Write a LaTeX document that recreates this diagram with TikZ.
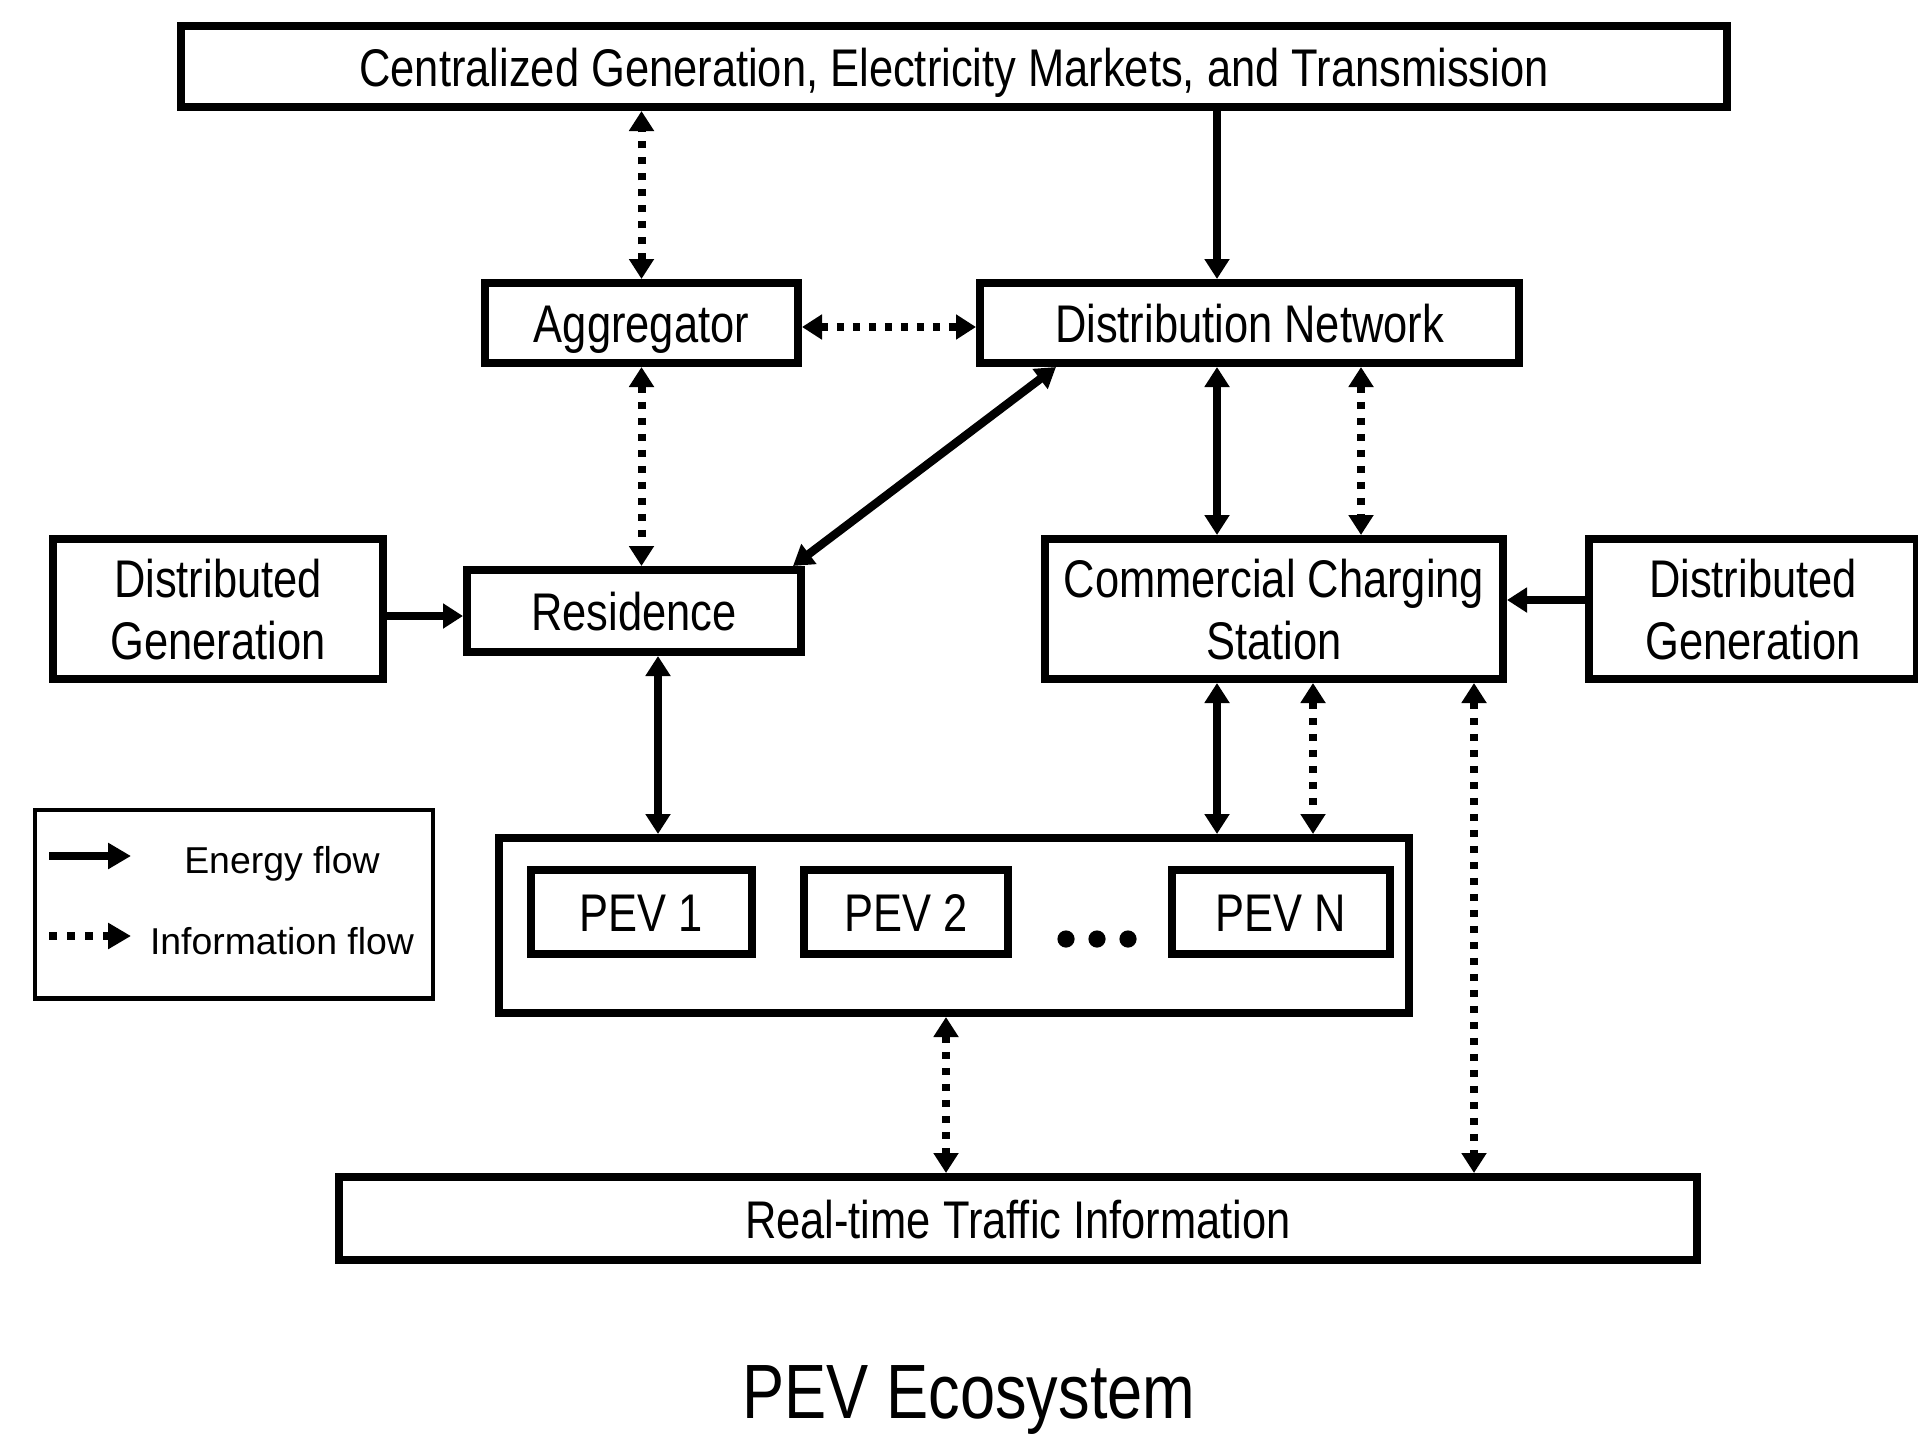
\documentclass[tikz,border=0pt]{standalone}
\usepackage{fontspec}
\setmainfont[FakeStretch=0.82]{Liberation Sans}
\newfontfamily\legendfont{Liberation Sans}
\usetikzlibrary{arrows.meta,calc}

\tikzset{
  % outer width/height in px; border drawn centred on the path
  bx/.style 2 args={draw, line width=3.8pt, inner sep=0pt, align=center,
    font=\fontsize{26.5}{31}\selectfont, text height=19.5pt, text depth=0pt,
    minimum width={(#1-7.6)*0.5pt}, minimum height={(#2-7.6)*0.5pt}},
  twoline/.style={text height=50pt, text depth=0pt},
  >={Triangle[length=10pt,width=12pt]},
  energy/.style={line width=4.2pt},
  info/.style={line width=4pt, dash pattern=on 3.5pt off 4.5pt},
  lgtext/.style={font=\legendfont\fontsize{18.7}{22}\selectfont, inner sep=0pt,
    text height=13.4pt, text depth=0pt}
}

\begin{document}
\begin{tikzpicture}[x=0.5pt, y=-0.5pt]
  \useasboundingbox (0,0) rectangle (1918,1440);

  % blocks
  \node[bx={1554}{89}]  (top)  at (954,66.5)  {Centralized Generation, Electricity Markets, and Transmission};
  \node[bx={321}{88}]   (agg)  at (641.5,323) {Aggregator};
  \node[bx={547}{88}]   (dist) at (1249.5,323){Distribution Network};
  \node[bx={338}{148},twoline]  (dgl)  at (218,609)   {Distributed\\Generation};
  \node[bx={342}{90}]   (res)  at (634,611)   {Residence};
  \node[bx={466}{148},twoline]  (ccs)  at (1274,609)  {Commercial Charging\\Station};
  \node[bx={336}{148},twoline]  (dgr)  at (1753,609)  {Distributed\\Generation};
  \node[bx={918}{183}]  (pev)  at (954,925.5) {};
  \node[bx={229}{92}]   (pev1) at (641.5,912) {PEV 1};
  \node[bx={212}{92}]   (pev2) at (906,912)   {PEV 2};
  \node[bx={226}{92}]   (pevn) at (1281,912)  {PEV N};
  \node[bx={1366}{91}]  (traf) at (1018,1218.5) {Real-time Traffic Information};

  % ellipsis between the vehicles
  \fill (1066,939) circle[radius=4.3pt] (1097,939) circle[radius=4.3pt] (1128,939) circle[radius=4.3pt];

  % connector tracks
  \coordinate (xdn)  at (1217,0);
  \coordinate (xdi)  at (1361,0);
  \coordinate (xrp)  at (658,0);
  \coordinate (xci)  at (1313,0);
  \coordinate (xct)  at (1474,0);
  \coordinate (xpt)  at (946,0);
  \coordinate (yad)  at (0,327);
  \coordinate (ydl)  at (0,616);
  \coordinate (ydr)  at (0,600);
  \coordinate (dd)   at ($(dist.south west)+(80,0)$);
  \coordinate (rr)   at ($(res.north east)+(-12,0)$);

  % information flows
  \draw[info,<->] (agg.north) -- (agg.north |- top.south);
  \draw[info,<->] (agg.east |- yad) -- (dist.west |- yad);
  \draw[info,<->] (agg.south) -- (agg.south |- res.north);
  \draw[info,<->] (dist.south -| xdi) -- (ccs.north -| xdi);
  \draw[info,<->] (ccs.south -| xci) -- (pev.north -| xci);
  \draw[info,<->] (ccs.south -| xct) -- (traf.north -| xct);
  \draw[info,<->] (pev.south -| xpt) -- (traf.north -| xpt);

  % energy flows
  \draw[energy,->]  (top.south -| xdn) -- (dist.north -| xdn);
  \draw[energy,<->] (dd) -- (rr);
  \draw[energy,<->] (dist.south -| xdn) -- (ccs.north -| xdn);
  \draw[energy,->]  (dgl.east |- ydl) -- (res.west |- ydl);
  \draw[energy,->]  (dgr.west |- ydr) -- (ccs.east |- ydr);
  \draw[energy,<->] (res.south -| xrp) -- (pev.north -| xrp);
  \draw[energy,<->] (ccs.south -| xdn) -- (pev.north -| xdn);

  % legend
  \node[draw, line width=2.2pt, minimum width=198.8pt, minimum height=94.3pt, inner sep=0pt] (legend) at (234,904) {};
  \coordinate (leA) at (49,856);
  \coordinate (leB) at (131,856);
  \coordinate (liA) at (49,936);
  \coordinate (liB) at (131,936);
  \draw[line width=3.8pt, -{Triangle[length=11.5pt,width=12.5pt]}] (leA) -- (leB);
  \draw[line width=4pt, dash pattern=on 4pt off 5pt, -{Triangle[length=11.5pt,width=12.5pt]}] (liA) -- (liB);
  \node[lgtext] (lgE) at (282,860) {Energy flow};
  \node[lgtext] (lgI) at (282,941) {Information flow};

  % caption
  \node[font=\fontsize{38.5}{44}\selectfont, inner sep=0pt, text depth=0pt] (cap) at (969,1392) {PEV Ecosystem};
\end{tikzpicture}
\end{document}
